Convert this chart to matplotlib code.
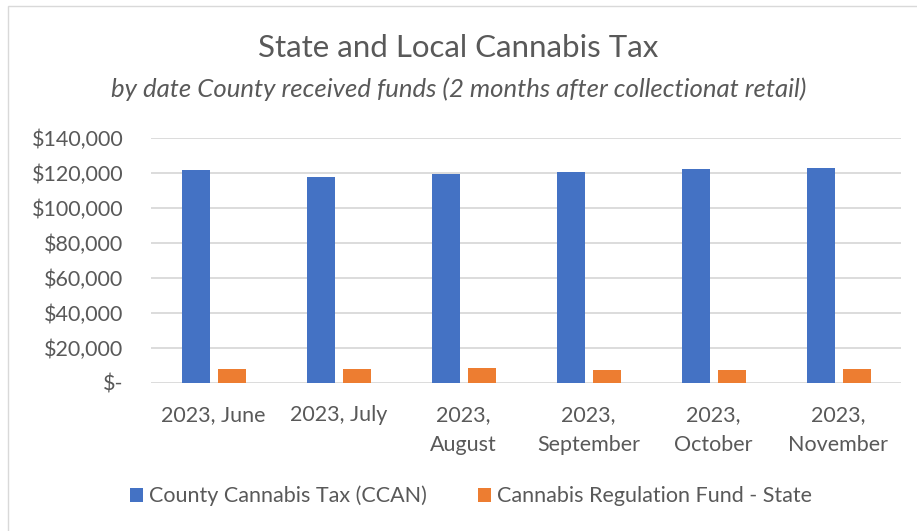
import matplotlib.pyplot as plt
import numpy as np
from matplotlib.patches import Rectangle

months = ["2023, June", "2023, July", "2023,\nAugust", "2023,\nSeptember",
          "2023,\nOctober", "2023,\nNovember"]
county_tax = [121500, 117400, 119100, 120400, 122300, 122700]
state_fund = [7650, 7800, 8400, 7250, 7450, 7800]
yticks = [0, 20000, 40000, 60000, 80000, 100000, 120000, 140000]
ylabels = ["$-", "$20,000", "$40,000", "$60,000", "$80,000", "$100,000",
           "$120,000", "$140,000"]

blue = "#4472C4"
orange = "#ED7D31"
txt = "#595959"
grid = "#D9D9D9"

plt.rcParams['font.family'] = ['Lato', 'DejaVu Sans']

W, H = 917, 531
fig = plt.figure(figsize=(W / 100, H / 100), dpi=100)

# chart border
fig.patches.append(Rectangle((8 / W, -0.01), 1.0, 1 - 6 / H + 0.01, transform=fig.transFigure,
                             fill=False, edgecolor=grid, linewidth=1.0))

ax = fig.add_axes([151 / W, (H - 382.7) / H, 750 / W, 245 / H])

x = np.arange(len(months))
bw = 0.224
ax.bar(x - 0.144, county_tax, width=bw, color=blue, label="County Cannabis Tax (CCAN)", zorder=3)
ax.bar(x + 0.144, state_fund, width=bw, color=orange, label="Cannabis Regulation Fund - State", zorder=3)

ax.set_xlim(-0.5, len(months) - 0.5)
ax.set_ylim(0, 140000)
ax.set_yticks(yticks)
ax.set_yticklabels(ylabels)
ax.set_xticks(x)
ax.set_xticklabels(months, va="top", linespacing=1.6)

ax.grid(axis="y", color=grid, linewidth=1.3, zorder=0)
for s in ax.spines.values():
    s.set_visible(False)
ax.tick_params(axis="both", length=0, colors=txt, labelsize=15.5)
ax.tick_params(axis="y", pad=20)
ax.tick_params(axis="x", pad=16)

fig.text(0.5, (H - 48) / H, "State and Local Cannabis Tax", ha="center", va="center",
         fontsize=22.5, color=txt)
fig.text(0.5, (H - 89) / H, "by date County received funds (2 months after collectionat retail)",
         ha="center", va="center", fontsize=18.5, color=txt, style="italic")

leg = fig.legend(loc="center", bbox_to_anchor=(471 / W, (H - 496) / H), ncol=2, frameon=False,
                 fontsize=15.5, labelcolor=txt, handlelength=0.6, handleheight=0.6,
                 handletextpad=0.3, columnspacing=2.36)

fig.savefig("out.png", dpi=100)
